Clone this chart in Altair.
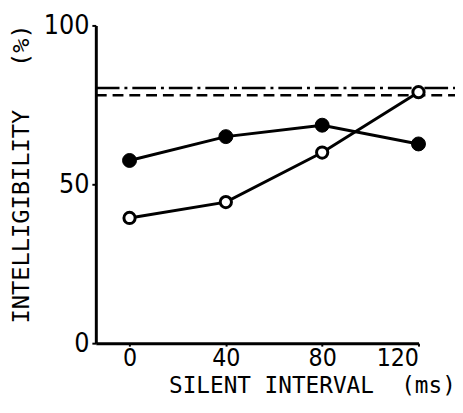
import altair as alt
import pandas as pd

interval_ms = [0, 40, 80, 120]
filled_vals = [57.5, 65.0, 68.6, 62.7]
open_vals = [39.4, 44.4, 60.0, 79.0]
ref_values = [80.3, 78.0]
ref_styles = ["dashdot", "dashed"]
x_ticks = [0, 40, 80, 120]
y_ticks = [0, 50, 100]
x_min, x_max, x_ref_end = -14, 120, 136

df = pd.DataFrame({
    "interval": interval_ms * 2,
    "value": filled_vals + open_vals,
    "series": ["filled"] * 4 + ["open"] * 4,
})
ref_df = pd.DataFrame({
    "value": ref_values,
    "style": ref_styles,
    "x0": [x_min] * 2,
    "x1": [x_ref_end] * 2,
})

FONT = "DejaVu Sans Mono"
LFONT = "DejaVu Sans Condensed, Liberation Sans Narrow, DejaVu Sans Mono"
NB = "\u00a0"
xscale = alt.Scale(domain=[x_min, x_max], nice=False, zero=False)
yscale = alt.Scale(domain=[0, 100], nice=False)

xaxis = alt.Axis(
    values=x_ticks, title="SILENT" + NB + "INTERVAL" + NB * 2 + "(ms)", grid=False,
    domainWidth=3, domainColor="black", tickColor="black", tickWidth=2, tickSize=3,
    labelFont=LFONT, labelFontSize=25, labelColor="black", labelPadding=0,
    titleFont=FONT, titleFontSize=23, titleFontWeight="normal", titleColor="black",
    titleX=219, titleY=50, titleAlign="center", titleBaseline="alphabetic",
)
yaxis = alt.Axis(
    values=y_ticks, title="INTELLIGIBILITY" + NB * 3 + "(%)", grid=False,
    domainWidth=3, domainColor="black", tickColor="black", tickWidth=2, tickSize=4,
    labelFont=LFONT, labelFontSize=27, labelColor="black", labelPadding=3,
    titleFont=FONT, titleFontSize=24, titleFontWeight="normal", titleColor="black",
    titleAngle=270, titleX=-75, titleY=150, titleAlign="center", titleBaseline="middle",
)

base = alt.Chart(df)

dashdot = alt.Chart(ref_df).transform_filter(alt.datum.style == "dashdot").mark_rule(
    color="black", strokeWidth=2.5, strokeDash=[24, 5, 3, 5], clip=False
).encode(
    x=alt.X("x0:Q", scale=xscale, axis=xaxis),
    x2="x1:Q",
    y=alt.Y("value:Q", scale=yscale, axis=yaxis),
)
dashed = alt.Chart(ref_df).transform_filter(alt.datum.style == "dashed").mark_rule(
    color="black", strokeWidth=2.5, strokeDash=[11, 6], clip=False
).encode(
    x=alt.X("x0:Q", scale=xscale, axis=xaxis),
    x2="x1:Q",
    y=alt.Y("value:Q", scale=yscale, axis=yaxis),
)

lines = base.mark_line(color="black", strokeWidth=3).encode(
    x=alt.X("interval:Q", scale=xscale, axis=xaxis),
    y=alt.Y("value:Q", scale=yscale, axis=yaxis),
    detail="series:N",
)

filled_pts = base.transform_filter(alt.datum.series == "filled").mark_point(
    shape="circle", filled=True, fill="black", stroke="black", strokeWidth=1, size=200, opacity=1
).encode(
    x=alt.X("interval:Q", scale=xscale, axis=xaxis),
    y=alt.Y("value:Q", scale=yscale, axis=yaxis),
)
open_pts = base.transform_filter(alt.datum.series == "open").mark_point(
    shape="circle", filled=True, fill="white", stroke="black", strokeWidth=3, size=130, opacity=1
).encode(
    x=alt.X("interval:Q", scale=xscale, axis=xaxis),
    y=alt.Y("value:Q", scale=yscale, axis=yaxis),
)

chart = alt.layer(dashdot, dashed, lines, filled_pts, open_pts).properties(
    width=327, height=322,
    autosize=alt.AutoSizeParams(type="none"),
    padding={"left": 89, "top": 15, "right": 37, "bottom": 60},
    background="white",
).configure_view(strokeWidth=0, stroke="transparent")

chart.save("out.html", embed_options={"renderer": "svg", "actions": False})
